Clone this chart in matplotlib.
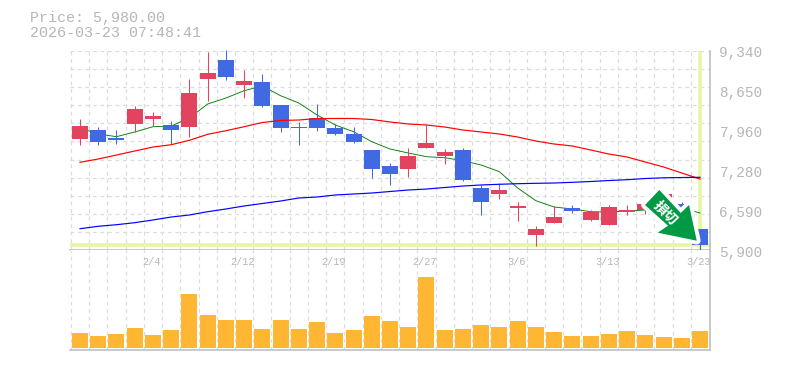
import matplotlib
matplotlib.use('Agg')
import matplotlib.pyplot as plt
from matplotlib.patches import Polygon
from matplotlib.transforms import Affine2D
import numpy as np

open_p = [7819, 7974, 7836, 8078, 8164, 8061, 8026, 8856, 9184, 8752, 8804, 8406,
          8026, 8182, 8009, 7905, 7629, 7352, 7300, 7663, 7525, 7629, 6972, 6868,
          6626, 6159, 6367, 6626, 6419, 6332, 6557, 6591, 6678, 6695, 6263]
high_p = [8164, 8026, 7974, 8389, 8285, 8130, 8856, 9323, 9357, 9011, 8942, 8406,
          8113, 8424, 8078, 8026, 7629, 7404, 7663, 8061, 7646, 7663, 7024, 7058,
          6730, 6315, 6661, 6678, 6591, 6678, 6678, 6730, 6868, 6730, 6263]
low_p = [7715, 7715, 7732, 7940, 8043, 7732, 7853, 8476, 8839, 8527, 8372, 7940,
         7715, 7957, 7888, 7750, 7145, 7024, 7162, 7663, 7387, 7093, 6505, 6782,
         6401, 5969, 6367, 6540, 6401, 6332, 6505, 6522, 6590, 6505, 5883]
close_p = [8043, 7767, 7801, 8337, 8216, 7974, 8614, 8960, 8890, 8821, 8389, 8009,
           8009, 8009, 7905, 7767, 7300, 7214, 7525, 7750, 7594, 7110, 6730, 6937,
           6661, 6263, 6470, 6574, 6557, 6643, 6591, 6695, 6868, 6557, 5980]
ma_short = [8009, 7905, 7859, 7940, 8031, 8043, 8182, 8424, 8527, 8654, 8735, 8567,
            8441, 8234, 8061, 7945, 7772, 7646, 7577, 7513, 7495, 7444, 7369, 7254,
            6972, 6752, 6643, 6609, 6562, 6557, 6574, 6591, 6626, 6626, 6540]
ma_mid = [7416, 7473, 7542, 7611, 7680, 7720, 7796, 7900, 7962, 8031, 8104, 8139,
          8147, 8173, 8173, 8173, 8156, 8113, 8078, 8061, 8026, 7974, 7940, 7905,
          7853, 7784, 7732, 7698, 7629, 7559, 7508, 7421, 7335, 7231, 7127]
ma_long = [6268, 6310, 6337, 6372, 6419, 6470, 6505, 6562, 6609, 6661, 6704, 6747,
           6799, 6816, 6851, 6868, 6885, 6911, 6937, 6954, 6980, 7006, 7024, 7036,
           7046, 7053, 7058, 7070, 7084, 7101, 7115, 7136, 7148, 7153, 7157]
volume = [15, 12, 14, 20, 13, 18, 54, 33, 28, 28, 19, 28, 19, 26, 15, 18, 32, 27,
          21, 71, 18, 19, 23, 21, 27, 21, 16, 12, 12, 14, 17, 13, 11, 10, 17]
date_idx = [4, 9, 14, 19, 24, 29, 34]
date_labels = ['2/4', '2/12', '2/19', '2/27', '3/6', '3/13', '3/23']
price_labels = [9340, 8650, 7960, 7280, 6590, 5900]
last_price = 5980
stamp = '2026-03-23 07:48:41'

UP = '#E2445F'
DOWN = '#4169E1'
VOL = '#FFB733'
GRID = '#DCDCDC'
FRAME = '#C0C0C0'
MARK = '#E6F6A6'
TXT = '#B6B6B6'
MONO = 'Liberation Mono'
W, H = 785, 370

fig = plt.figure(figsize=(W / 100, H / 100), dpi=100)
ax = fig.add_axes([70 / W, (H - 250) / H, 639.5 / W, 199 / H])
ax_v = fig.add_axes([70 / W, (H - 350) / H, 639.5 / W, 100 / H])

x = np.arange(len(close_p))
o, h, l, c = map(np.array, (open_p, high_p, low_p, close_p))
colors = [UP if c[i] >= o[i] else DOWN for i in x]

for a in (ax, ax_v):
	a.set_xlim(-0.548, 34.52)
	a.set_xticks(x[:-1] + 0.5)
	a.set_xticks([-0.5], minor=True)
	a.grid(True, axis='x', which='both', color=GRID, lw=0.9, ls=(0, (3, 3)), zorder=0)
	a.tick_params(which='both', length=0, labelbottom=False, labelleft=False)
	a.set_axisbelow(True)
	for s in ('left', 'top'):
		a.spines[s].set_visible(False)
	for s in ('right', 'bottom'):
		a.spines[s].set_color(FRAME)
		a.spines[s].set_linewidth(1.2)

ax.set_ylim(5900, 9340)
ax.set_yticks(np.linspace(5900, 9340, 12))
ax.grid(True, axis='y', color=GRID, lw=0.9, ls=(0, (3, 3)), zorder=0)

ax.axhline(last_price, color=MARK, lw=2.6, zorder=1)
ax.axvline(34, color=MARK, lw=2.6, zorder=1)

ax.plot(x, ma_short, color='green', lw=0.65, zorder=2)
ax.vlines(x, l, h, colors=colors, lw=0.75, zorder=3, clip_on=False)
ax.bar(x, np.abs(c - o), bottom=np.minimum(o, c), width=0.877, color=colors, lw=0, zorder=4)
ax.plot(x, ma_mid, color='red', lw=0.85, zorder=5)
ax.plot(x, ma_long, color='blue', lw=0.85, zorder=5)

ax_v.set_ylim(-2, 98)
ax_v.set_yticks([])
ax_v.bar(x, volume, width=0.877, color=VOL, lw=0, zorder=3)

for p in price_labels:
	ax.annotate(f'{p:,}', xy=(1, p), xycoords=('axes fraction', 'data'), xytext=(10, -2.5),
		textcoords='offset pixels', family=MONO, fontsize=10.4, color=TXT, va='center',
		annotation_clip=False)

for i, lab in zip(date_idx, date_labels):
	ax_v.annotate(lab, xy=(i, 1), xycoords=('data', 'axes fraction'), xytext=(-1.5, -12),
		textcoords='offset pixels', family=MONO, fontsize=7.4, color=TXT,
		ha='center', va='center', annotation_clip=False, zorder=6)

fig.text(30 / W, (H - 18) / H, f'Price: {last_price:,.2f}', family=MONO, fontsize=10.8, color=TXT, va='center')
fig.text(30 / W, (H - 33) / H, stamp, family=MONO, fontsize=10.8, color=TXT, va='center')

# loss-cut arrow badge, outline in pixels relative to its tip, white halo around it
tip = (33.82, 6061)
badge = [(0, 0), (-39, 8), (-28.7, 15), (-51.7, 35.7), (-37.4, 50.7), (-16, 27.7), (-7.7, 35.7)]
tip_px = ax.transData.transform(tip)
ax.add_patch(Polygon(badge, closed=True, facecolor='#009944', edgecolor='white', lw=5.6,
	joinstyle='round', transform=Affine2D().translate(*tip_px), clip_on=False, zorder=7))
ax.add_patch(Polygon(badge, closed=True, facecolor='#009944', edgecolor='none',
	transform=Affine2D().translate(*tip_px), clip_on=False, zorder=8))
ax.annotate('損切', xy=tip, xytext=(-31.7, 27.7), textcoords='offset pixels',
	family='Noto Sans CJK JP', weight='bold', fontsize=10, color='white', rotation=-45,
	rotation_mode='anchor', ha='center', va='center', zorder=9)

fig.savefig('out.png', dpi=100)
